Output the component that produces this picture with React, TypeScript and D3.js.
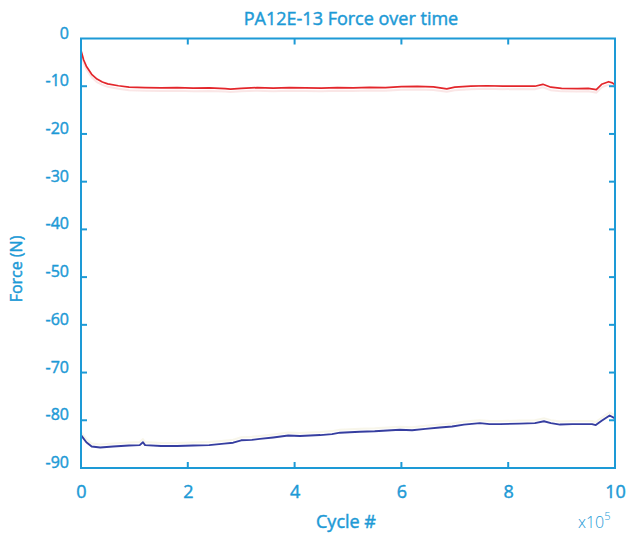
import React from "react";
import * as d3 from "d3";

const xTicks = [0, 2, 4, 6, 8, 10];
const yTicks = [0, -10, -20, -30, -40, -50, -60, -70, -80, -90];

const redCycles = [0, 0.05, 0.1, 0.2, 0.3, 0.4, 0.5, 0.7, 0.9, 1.2, 1.5, 1.8, 2.1, 2.4, 2.7, 2.8, 3.0, 3.3, 3.6, 3.9, 4.2, 4.5, 4.8, 5.1, 5.4, 5.7, 6.0, 6.3, 6.6, 6.85, 7.0, 7.3, 7.6, 7.9, 8.2, 8.5, 8.65, 8.8, 9.0, 9.3, 9.5, 9.65, 9.75, 9.88, 9.95, 10.0];
const redForce = [-2.5, -4.5, -5.8, -7.5, -8.5, -9.1, -9.5, -9.9, -10.2, -10.3, -10.35, -10.3, -10.4, -10.35, -10.5, -10.6, -10.45, -10.3, -10.4, -10.3, -10.35, -10.4, -10.3, -10.35, -10.25, -10.3, -10.1, -10.05, -10.15, -10.55, -10.2, -10.0, -9.9, -10.0, -9.95, -10.0, -9.6, -10.2, -10.45, -10.5, -10.45, -10.7, -9.6, -9.05, -9.3, -9.7];

const blueCycles = [0, 0.1, 0.2, 0.36, 0.6, 0.9, 1.1, 1.16, 1.2, 1.5, 1.8, 2.1, 2.4, 2.68, 2.85, 3.0, 3.2, 3.35, 3.6, 3.88, 4.1, 4.48, 4.7, 4.85, 5.22, 5.5, 5.97, 6.2, 6.45, 6.72, 6.95, 7.17, 7.47, 7.65, 7.85, 8.22, 8.5, 8.67, 8.8, 8.97, 9.2, 9.57, 9.64, 9.75, 9.9, 10.0];
const blueForce = [-83.1, -84.6, -85.5, -85.7, -85.5, -85.3, -85.2, -84.6, -85.2, -85.4, -85.4, -85.3, -85.2, -84.9, -84.7, -84.2, -84.1, -83.9, -83.6, -83.2, -83.3, -83.1, -82.9, -82.6, -82.4, -82.3, -82.0, -82.1, -81.8, -81.5, -81.3, -80.9, -80.6, -80.8, -80.8, -80.7, -80.6, -80.2, -80.6, -80.9, -80.8, -80.8, -81.0, -80.1, -79.0, -79.6];

const AX = "#1d9ad6";
const FONT = "'Open Sans', sans-serif";

export default function App() {
  const W = 628, H = 533;
  const left = 81, right = 615, top = 38.5, bottom = 468;
  const x = d3.scaleLinear().domain([0, 10]).range([left, right]);
  const y = d3.scaleLinear().domain([-90, 0]).range([bottom, top]);
  const line = d3.line<[number, number]>().x(d => x(d[0])).y(d => y(d[1]));
  const redPts = redCycles.map((c, i) => [c, redForce[i]] as [number, number]);
  const bluePts = blueCycles.map((c, i) => [c, blueForce[i]] as [number, number]);
  const tl = 6;
  const txt = { fill: AX, stroke: AX, strokeWidth: 0.45 };
  return (
    <svg width={W} height={H} style={{ position: "absolute", left: 0, top: 0, background: "#fff" }} fontFamily={FONT}>
      <rect x={0} y={0} width={W} height={H} fill="#fff" />
      <path d={line(redPts) || ""} fill="none" stroke="#f4c8c8" strokeWidth={2} opacity={0.45} transform="translate(0,3)" />
      <path d={line(bluePts) || ""} fill="none" stroke="#f0ecd0" strokeWidth={2} opacity={0.45} transform="translate(0,-3)" />
      <path d={line(redPts) || ""} fill="none" stroke="#e3262b" strokeWidth={1.7} strokeLinejoin="round" />
      <path d={line(bluePts) || ""} fill="none" stroke="#363ea0" strokeWidth={1.9} strokeLinejoin="round" />
      <rect x={left} y={top} width={right - left} height={bottom - top} fill="none" stroke={AX} strokeWidth={2} />
      {xTicks.slice(1, -1).map(t => (
        <g key={"xt" + t}>
          <line x1={x(t)} x2={x(t)} y1={bottom} y2={bottom - tl} stroke={AX} strokeWidth={2} />
          <line x1={x(t)} x2={x(t)} y1={top} y2={top + tl} stroke={AX} strokeWidth={2} />
        </g>
      ))}
      {yTicks.slice(1, -1).map(t => (
        <g key={"yt" + t}>
          <line x1={left} x2={left + tl} y1={y(t)} y2={y(t)} stroke={AX} strokeWidth={2} />
          <line x1={right} x2={right - tl} y1={y(t)} y2={y(t)} stroke={AX} strokeWidth={2} />
        </g>
      ))}
      {xTicks.map(t => (
        <text key={"xl" + t} x={x(t) + 0.5} y={498} textAnchor="middle" fontSize={18} {...txt}>{t}</text>
      ))}
      {yTicks.map(t => (
        <text key={"yl" + t} x={69} y={y(t)} textAnchor="end" fontSize={16} {...txt}>{t}</text>
      ))}
      <text x={351} y={24.5} textAnchor="middle" fontSize={18} {...txt}>PA12E-13 Force over time</text>
      <text x={346} y={528} textAnchor="middle" fontSize={18} {...txt}>Cycle #</text>
      <text x={578} y={528} fontSize={16} fontWeight={300} fill={AX}>x10<tspan dy={-8} fontSize={11}>5</tspan></text>
      <text transform="translate(22,269) rotate(-90)" textAnchor="middle" fontSize={16} {...txt}>Force (N)</text>
    </svg>
  );
}
